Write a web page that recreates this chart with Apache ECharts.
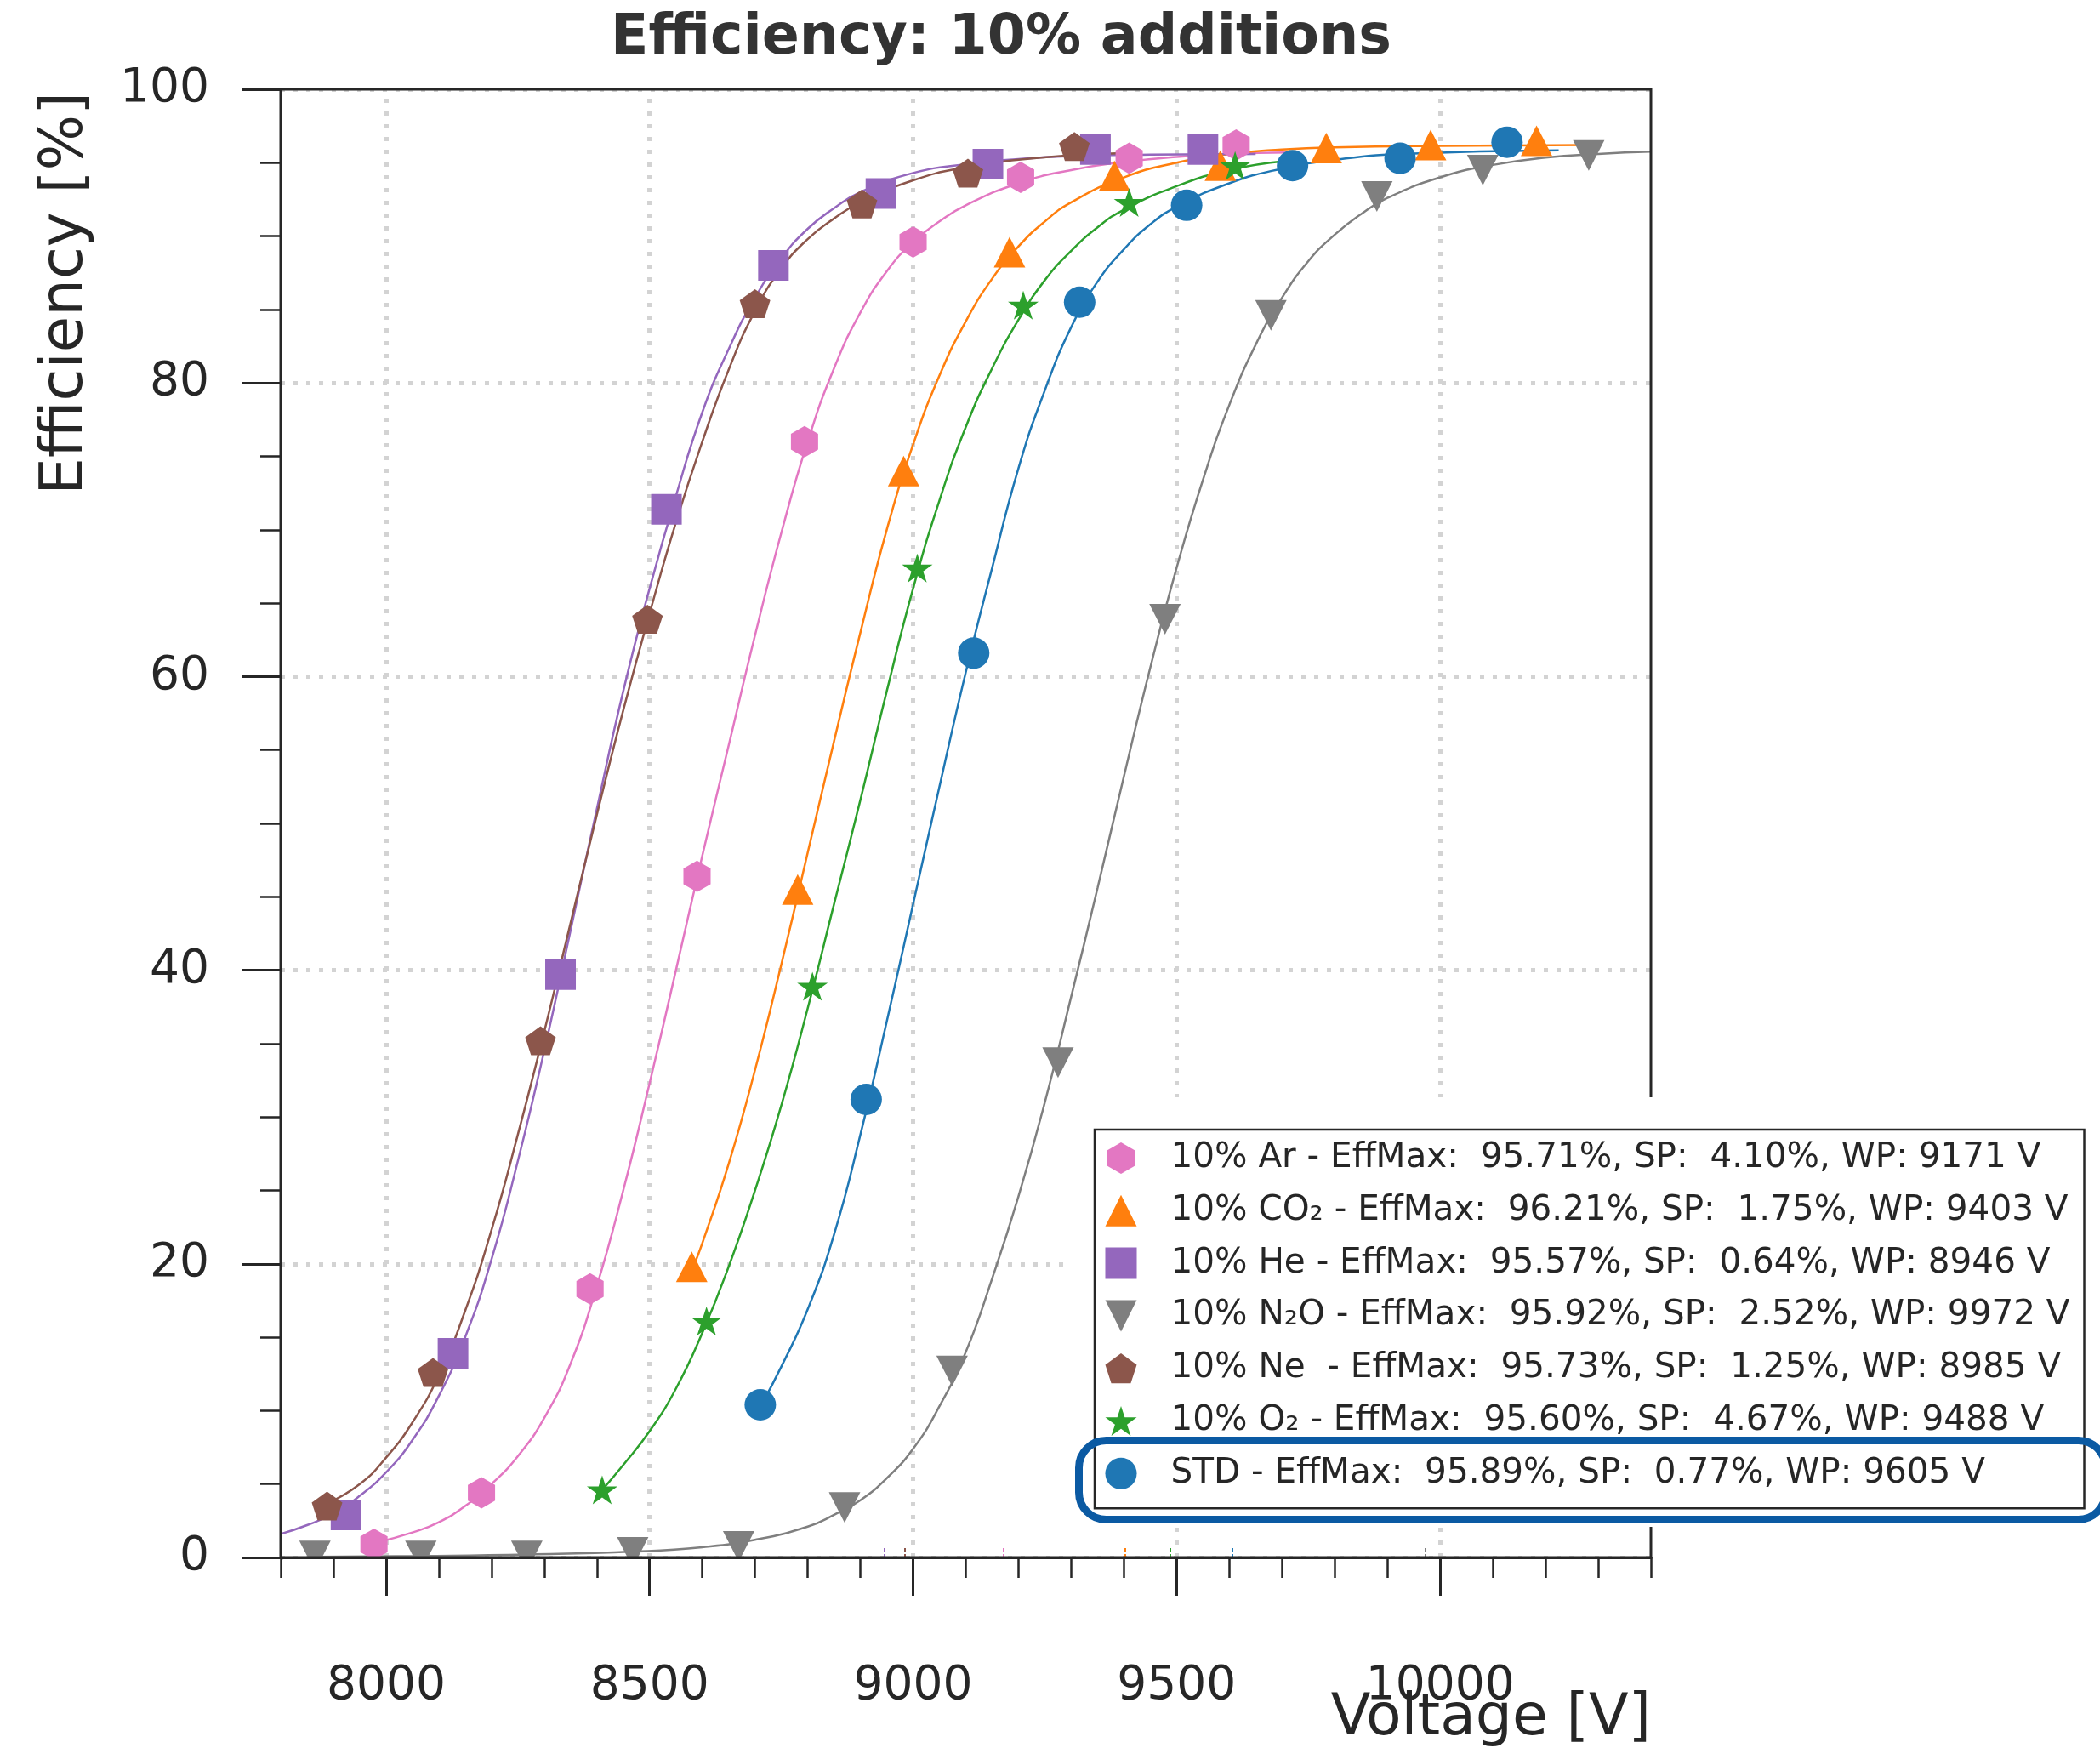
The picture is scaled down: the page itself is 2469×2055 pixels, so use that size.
<!DOCTYPE html>
<html>
<head>
<meta charset="utf-8">
<title>Efficiency: 10% additions</title>
<script src="https://cdn.jsdelivr.net/npm/echarts@6/dist/echarts.min.js"></script>
<style>
  html, body { margin: 0; padding: 0; background: #fff; }
  #chart { width: 2469px; height: 2055px; }
</style>
</head>
<body>
<div id="chart"></div>
<script>
// measured points [voltage V, efficiency %]
const arPoints = [[7977, 0.9], [8181, 4.4], [8387, 18.3], [8590, 46.4], [8794, 76.0], [9000, 89.6], [9204, 94.0], [9410, 95.3], [9613, 96.2]];
const co2Points = [[8580, 19.8], [8781, 45.5], [8982, 74.0], [9183, 88.9], [9382, 94.1], [9583, 94.8], [9784, 96.0], [9982, 96.2], [10183, 96.5]];
const hePoints = [[7924, 2.9], [8127, 13.9], [8331, 39.7], [8532, 71.4], [8735, 88.0], [8939, 92.9], [9142, 94.9], [9346, 95.9], [9550, 95.9]];
const n2oPoints = [[7865, 0.1], [8066, 0.1], [8267, 0.1], [8468, 0.35], [8669, 0.75], [8870, 3.4], [9074, 12.7], [9275, 33.7], [9478, 63.9], [9679, 84.6], [9880, 92.7], [10081, 94.5], [10282, 95.5]];
const nePoints = [[7888, 3.5], [8089, 12.6], [8293, 35.2], [8496, 63.9], [8700, 85.4], [8903, 92.2], [9104, 94.3], [9306, 96.1]];
const o2Points = [[8410, 4.6], [8608, 16.1], [8809, 38.9], [9008, 67.4], [9209, 85.3], [9410, 92.3], [9611, 94.8]];
const stdPoints = [[8710, 10.4], [8911, 31.2], [9115, 61.6], [9316, 85.5], [9519, 92.1], [9720, 94.8], [9924, 95.3], [10127, 96.4]];

// fit curves
const arFit = [[7980, 1.0], [8050, 1.7], [8100, 2.4], [8150, 3.5], [8200, 5.0], [8250, 6.9], [8300, 9.5], [8350, 13.2], [8400, 18.5], [8450, 25.0], [8500, 32.3], [8550, 40.0], [8600, 47.8], [8650, 55.3], [8700, 62.8], [8750, 69.8], [8800, 76.0], [8850, 81.0], [8900, 84.8], [8950, 87.6], [9000, 89.6], [9050, 91.0], [9100, 92.1], [9200, 93.6], [9300, 94.5], [9400, 95.05], [9500, 95.4], [9600, 95.6], [9710, 95.7]];
const co2Fit = [[8583, 19.8], [8600, 21.4], [8650, 26.8], [8700, 33.2], [8750, 40.4], [8800, 48.0], [8850, 55.6], [8900, 63.0], [8950, 70.0], [9000, 75.8], [9050, 80.5], [9100, 84.2], [9150, 87.1], [9200, 89.3], [9250, 91.0], [9300, 92.3], [9400, 94.0], [9500, 95.0], [9600, 95.6], [9700, 95.9], [9800, 96.05], [10000, 96.15], [10279, 96.2]];
const heFit = [[7800, 1.6], [7850, 2.2], [7900, 3.0], [7950, 4.2], [8000, 5.8], [8050, 8.0], [8100, 11.0], [8150, 15.0], [8200, 20.3], [8250, 27.0], [8300, 34.5], [8350, 42.7], [8400, 51.0], [8450, 59.0], [8500, 66.0], [8550, 72.3], [8600, 78.0], [8650, 82.3], [8700, 85.8], [8750, 88.5], [8800, 90.5], [8850, 91.9], [8900, 93.0], [9000, 94.3], [9100, 94.9], [9200, 95.25], [9300, 95.45], [9450, 95.55], [9650, 95.6]];
const n2oFit = [[7865, 0.05], [8070, 0.1], [8270, 0.2], [8470, 0.4], [8600, 0.7], [8700, 1.2], [8800, 2.1], [8850, 2.9], [8900, 3.9], [8950, 5.4], [9000, 7.4], [9050, 10.3], [9100, 14.0], [9150, 19.0], [9200, 24.6], [9250, 31.0], [9300, 38.2], [9350, 45.6], [9400, 53.2], [9450, 60.6], [9500, 67.4], [9550, 73.4], [9600, 78.5], [9650, 82.6], [9700, 85.8], [9750, 88.3], [9800, 90.1], [9850, 91.5], [9900, 92.6], [10000, 94.0], [10100, 94.85], [10200, 95.35], [10300, 95.6], [10400, 95.75]];
const neFit = [[7889, 3.7], [7950, 5.0], [8000, 6.8], [8050, 9.2], [8100, 12.4], [8150, 16.8], [8200, 22.3], [8250, 28.8], [8300, 35.8], [8350, 43.2], [8400, 50.6], [8450, 57.7], [8500, 64.3], [8550, 70.5], [8600, 76.0], [8650, 80.9], [8700, 84.9], [8750, 87.8], [8800, 89.8], [8850, 91.2], [8900, 92.3], [9000, 93.8], [9100, 94.7], [9200, 95.2], [9300, 95.5], [9400, 95.65]];
const o2Fit = [[8410, 4.6], [8450, 6.3], [8500, 8.6], [8550, 11.5], [8600, 15.3], [8650, 19.8], [8700, 25.0], [8750, 30.8], [8800, 37.4], [8850, 44.5], [8900, 51.6], [8950, 59.0], [9000, 66.0], [9050, 72.0], [9100, 77.0], [9150, 81.0], [9200, 84.3], [9250, 87.0], [9300, 89.0], [9350, 90.6], [9400, 91.8], [9500, 93.4], [9600, 94.5], [9704, 95.1]];
const stdFit = [[8712, 10.4], [8750, 13.0], [8800, 16.9], [8850, 22.0], [8900, 28.8], [8950, 36.5], [9000, 44.5], [9050, 52.5], [9100, 60.3], [9150, 67.4], [9200, 74.2], [9250, 79.5], [9300, 83.8], [9350, 86.9], [9400, 89.1], [9450, 90.8], [9500, 92.0], [9600, 93.6], [9700, 94.6], [9800, 95.2], [9925, 95.6], [10225, 95.85]];

const labels = [
  '10% Ar - EffMax:  95.71%, SP:  4.10%, WP: 9171 V',
  '10% CO\u2082 - EffMax:  96.21%, SP:  1.75%, WP: 9403 V',
  '10% He - EffMax:  95.57%, SP:  0.64%, WP: 8946 V',
  '10% N\u2082O - EffMax:  95.92%, SP:  2.52%, WP: 9972 V',
  '10% Ne  - EffMax:  95.73%, SP:  1.25%, WP: 8985 V',
  '10% O\u2082 - EffMax:  95.60%, SP:  4.67%, WP: 9488 V',
  'STD - EffMax:  95.89%, SP:  0.77%, WP: 9605 V'
];
const workPoints = [9171, 9403, 8946, 9972, 8985, 9488, 9605];
const xTicks = [8000, 8500, 9000, 9500, 10000];

// marker shapes (matplotlib h, ^, s, v, p, *, o)
const HEX = 'path://M0.433,0L0.866,0.25L0.866,0.75L0.433,1L0,0.75L0,0.25Z';
const TRI_UP = 'path://M0.5,0L1,1L0,1Z';
const SQUARE = 'path://M0,0L1,0L1,1L0,1Z';
const TRI_DOWN = 'path://M0,0L1,0L0.5,1Z';
const PENT = 'path://M0.951,0L1.902,0.691L1.539,1.809L0.363,1.809L0,0.691Z';
const STAR = 'path://M0.951,0L1.1755,0.691L1.902,0.691L1.314,1.118L1.539,1.809L0.951,1.382L0.363,1.809L0.588,1.118L0,0.691L0.7265,0.691Z';

const gases = [
  { points: arPoints, fit: arFit, color: '#e377c2', symbol: HEX, size: [32, 37] },
  { points: co2Points, fit: co2Fit, color: '#ff7f0e', symbol: TRI_UP, size: [37, 36] },
  { points: hePoints, fit: heFit, color: '#9467bd', symbol: SQUARE, size: [36, 36] },
  { points: n2oPoints, fit: n2oFit, color: '#7f7f7f', symbol: TRI_DOWN, size: [37, 36] },
  { points: nePoints, fit: neFit, color: '#8c564b', symbol: PENT, size: [36, 34] },
  { points: o2Points, fit: o2Fit, color: '#2ca02c', symbol: STAR, size: [36, 34] },
  { points: stdPoints, fit: stdFit, color: '#1f77b4', symbol: 'circle', size: 37 }
];

const FONT = 'DejaVu Sans';
const INK = '#262626';
const GRID_DOTS = { color: '#d3d3d3', width: 5, type: [5, 10] };

const series = [{
  // vertical grid lines, kept behind the data
  type: 'line', data: [], z: 1, silent: true,
  markLine: {
    z: 1, silent: true, symbol: ['none', 'none'], label: { show: false },
    lineStyle: GRID_DOTS, emphasis: { disabled: true },
    data: xTicks.map(v => ({ xAxis: v }))
  }
}];

gases.forEach((g, i) => {
  series.push({
    name: 'fit ' + i, type: 'line', data: g.fit, z: 3,
    showSymbol: false, smooth: 0.5,
    lineStyle: { color: g.color, width: 2.5 }, silent: true,
    markLine: {
      z: 3, silent: true, symbol: ['none', 'none'], label: { show: false },
      lineStyle: { color: g.color, width: 2, type: [4, 3] },
      data: [[{ coord: [workPoints[i], 0] }, { coord: [workPoints[i], 0.8] }]]
    }
  });
  series.push({
    name: labels[i], type: 'scatter', data: g.points, z: 4,
    symbol: g.symbol, symbolSize: g.size,
    itemStyle: { color: g.color, opacity: 1 }
  });
});

const option = {
  animation: false,
  backgroundColor: '#fff',
  grid: { left: 330, top: 105, width: 1611, height: 1726, show: false },
  xAxis: [{
    type: 'value', min: 7800, max: 10400, interval: 100, position: 'bottom', z: 20,
    axisLine: { show: true, onZero: false, lineStyle: { color: INK, width: 3 } },
    axisTick: { show: true, length: 24, lineStyle: { color: INK, width: 2.5 } },
    axisLabel: { show: false }, splitLine: { show: false }
  }, {
    type: 'value', min: 7800, max: 10400, position: 'bottom', z: 20,
    axisLine: { show: false, onZero: false },
    axisTick: { show: true, length: 45, customValues: xTicks, lineStyle: { color: INK, width: 3 } },
    axisLabel: { show: true, customValues: xTicks, margin: 124, fontSize: 55, fontFamily: FONT, color: INK,
      formatter: v => String(v) },
    splitLine: { show: false }
  }],
  yAxis: {
    type: 'value', min: 0, max: 100, interval: 20,
    axisLine: { show: true, lineStyle: { color: INK, width: 3 } },
    axisTick: { show: true, length: 45, lineStyle: { color: INK, width: 3 } },
    minorTick: { show: true, splitNumber: 4, length: 24, lineStyle: { color: INK, width: 2.5 } },
    axisLabel: { margin: 84, fontSize: 55, fontFamily: FONT, color: INK },
    splitLine: { show: true, lineStyle: GRID_DOTS }
  },
  legend: {
    orient: 'vertical', left: 1287, top: 1328, z: 30,
    padding: [12.5, 17, 20, 12.5],
    itemWidth: 37, itemHeight: 37, itemGap: 19.8,
    backgroundColor: '#fff', borderColor: INK, borderWidth: 2.5, borderRadius: 0,
    selectedMode: false, symbolKeepAspect: true,
    textStyle: { fontFamily: FONT, fontSize: 40.5, lineHeight: 42, color: INK, padding: [0, 0, 0, 35] },
    data: labels.map((n, i) => ({ name: n, icon: gases[i].symbol }))
  },
  graphic: { elements: [
    // axes frame, drawn over the data like matplotlib spines
    { type: 'rect', z: 5, silent: true, shape: { x: 330, y: 105, width: 1611, height: 1726 },
      style: { fill: 'none', stroke: INK, lineWidth: 3 } },
    // pasted legend area hides the plot behind it
    { type: 'rect', z: 10, silent: true, shape: { x: 1250, y: 1290, width: 1219, height: 505 }, style: { fill: '#fff' } },
    // markers clipped at the bottom spine
    { type: 'rect', z: 10, silent: true, shape: { x: 333, y: 1833, width: 1607, height: 40 }, style: { fill: '#fff' } },
    { type: 'rect', z: 40, silent: true, shape: { x: 1268.5, y: 1693.5, width: 1207, height: 93, r: 32 },
      style: { fill: 'none', stroke: '#0b5aa3', lineWidth: 9 } },
    { type: 'text', z: 40, x: 1177, y: 46, style: { text: 'Efficiency: 10% additions', font: 'bold 65px "DejaVu Sans"', fill: '#333333', align: 'center', verticalAlign: 'middle', textAlign: 'center', textVerticalAlign: 'middle' } },
    { type: 'text', z: 40, x: 78, y: 108, rotation: Math.PI / 2, style: { text: 'Efficiency [%]', font: '69px "DejaVu Sans"', fill: INK, align: 'right', verticalAlign: 'middle', textAlign: 'right', textVerticalAlign: 'middle' } },
    { type: 'text', z: 40, x: 1941, y: 2021, style: { text: 'Voltage [V]', font: '68px "DejaVu Sans"', fill: INK, align: 'right', verticalAlign: 'middle', textAlign: 'right', textVerticalAlign: 'middle' } }
  ] },
  series: series
};

const chart = echarts.init(document.getElementById('chart'));
chart.setOption(option);
</script>
</body>
</html>
